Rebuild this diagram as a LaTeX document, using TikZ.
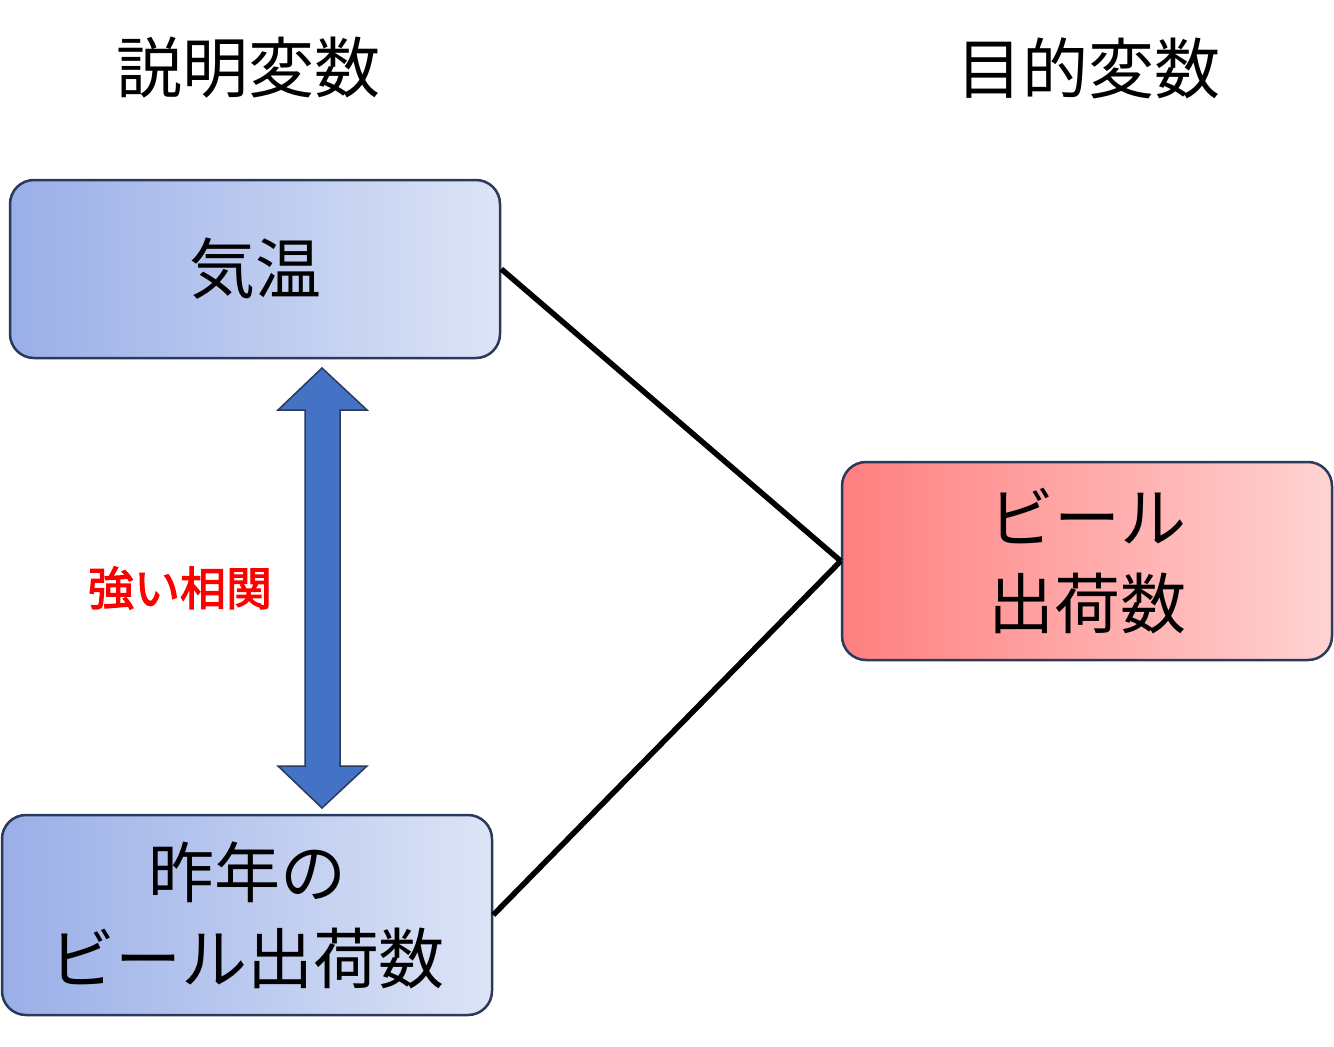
\documentclass[tikz,border=0pt]{standalone}
\usepackage{fontspec}
\setmainfont{Noto Sans CJK JP}
\newfontfamily\cjkb{Noto Sans CJK JP}[FakeBold=2.5]
\usetikzlibrary{shapes.arrows}
\definecolor{bdr}{HTML}{2B3A5A}
\definecolor{bA}{HTML}{9AAFE8}
\definecolor{bB}{HTML}{DDE4F6}
\definecolor{rA}{HTML}{FF7F7F}
\definecolor{rB}{HTML}{FFD3D3}
\definecolor{arr}{HTML}{4472C4}
\begin{document}
\begin{tikzpicture}[x=1pt,y=-1pt,
  box/.style={draw=bdr,line width=2.5pt,rounded corners=24pt,minimum width=490pt,align=center,
     font=\fontsize{66}{86}\selectfont,shading angle=135},
  blue/.style={box,left color=bA,right color=bB},
  red/.style={box,left color=rA,right color=rB},
  hdr/.style={font=\fontsize{66}{70}\selectfont},
  conn/.style={line width=5.5pt}]
\useasboundingbox (0,0) rectangle (1334,1047);
\node[hdr] (h1) at (248,68) {説明変数};
\node[hdr] (h2) at (1088,68) {目的変数};
\node[blue,minimum height=178pt] (a) at (255,269) {気温};
\node[blue,minimum height=200pt] (b) at (247,915) {昨年の\\ビール出荷数};
\node[red,minimum height=198pt] (c) at (1087,561) {ビール\\出荷数};
\draw[conn] (a.east) -- (c.west);
\draw[conn] (b.east) -- (c.west);
\draw[fill=arr,draw=bdr,line width=1.5pt] (322,368) -- (367,410) -- (340,410) -- (340,766) -- (367,766) -- (322,808) -- (278,766) -- (305,766) -- (305,410) -- (278,410) -- cycle;
\node[text=red,font=\cjkb\fontsize{46}{50}\selectfont] (t) at (180,588) {強い相関};
\end{tikzpicture}
\end{document}
